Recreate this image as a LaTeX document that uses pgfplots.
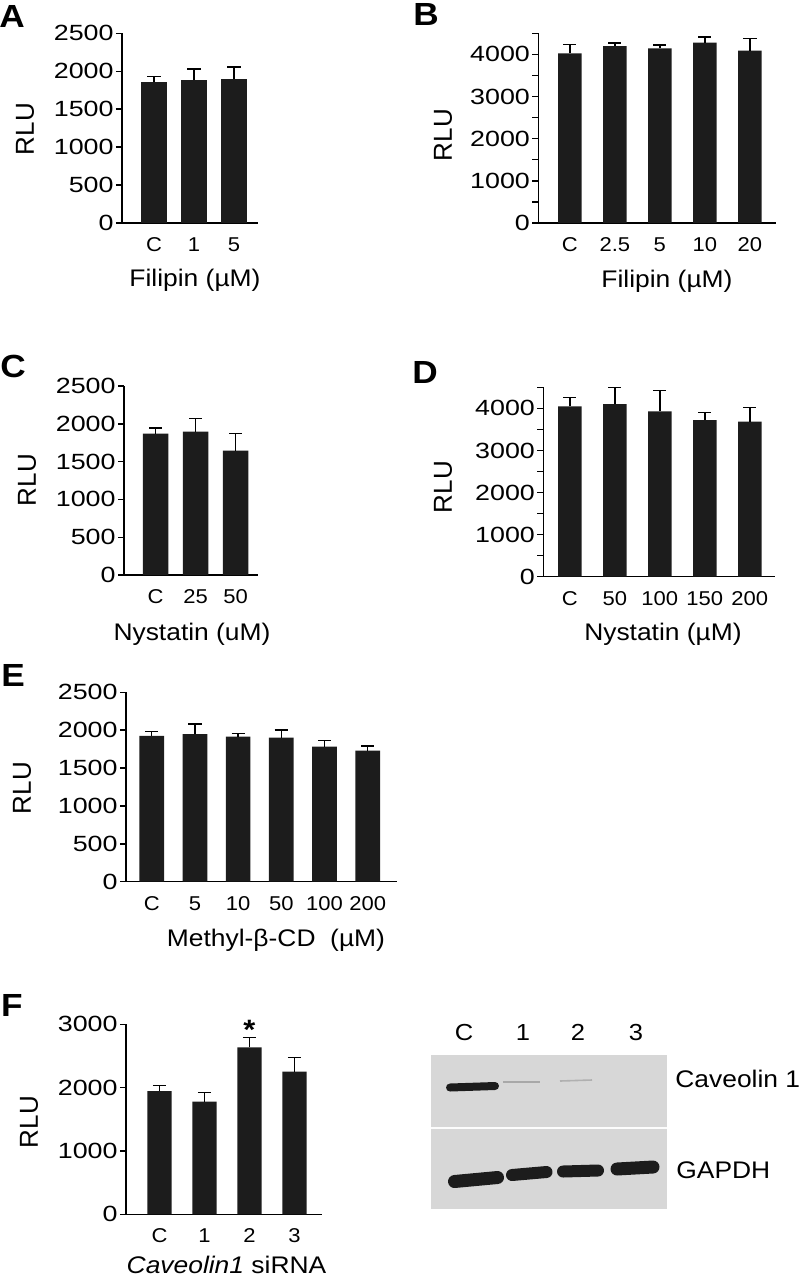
\documentclass[border=0pt]{standalone}
\usepackage{fontspec}
\setmainfont{Liberation Sans}[FakeStretch=1.1]
\newfontfamily\plainfont{Liberation Sans}
\newfontfamily\widefont{Liberation Sans}[FakeStretch=1.22]
\usepackage{pgfplots}
\usepackage{pgfplotstable}
\pgfplotsset{compat=1.18}
\definecolor{barcol}{HTML}{1C1C1C}
\definecolor{blotgray}{HTML}{D7D7D7}

\pgfplotstableread{
x y e
0 1855 79
1 1882 148
2 1895 162
}\dataA
\pgfplotstableread{
x y e
0 4024 214
1 4198 72
2 4143 79
3 4278 135
4 4087 294
}\dataB
\pgfplotstableread{
x y e
0 1869 75
1 1896 177
2 1644 230
}\dataC
\pgfplotstableread{
x y e
0 4048 213
1 4102 397
2 3929 489
3 3722 183
4 3682 342
}\dataD
\pgfplotstableread{
x y e
0 1924 62
1 1947 136
2 1915 45
3 1902 102
4 1783 79
5 1730 62
}\dataE
\pgfplotstableread{
x y e
0 1947 90
1 1778 142
2 2637 151
3 2252 221
}\dataF

\pgfplotsset{
  rlu/.style={
    scale only axis, anchor=south west, clip=false,
    axis x line*=bottom, axis y line*=left,
    axis line style={-, line width=0.7pt, black},
    ymin=0, xtick=data,
    xtick style={draw=none},
    ytick align=outside, ytick pos=left,
    major tick length=3pt, minor tick length=3pt,
    every tick/.style={line width=0.7pt, black},
    minor tick style={line width=0.7pt, black},
    /pgf/number format/assume math mode=true,
    /pgf/number format/1000 sep={},
    yticklabel style={font=\widefont\fontsize{11}{12}\selectfont, inner sep=0pt, xshift=-1pt},
    xticklabel style={font=\fontsize{10}{11}\selectfont, anchor=base, inner sep=0pt, yshift=-11.2pt},
    ybar, bar shift=0pt,
  },
  bsty/.style={
    fill=barcol, draw=none,
    error bars/.cd, y dir=plus, y explicit,
    error bar style={line width=0.7pt, draw=black},
    error mark options={rotate=90, line width=0.7pt, draw=black, mark size=3.3pt},
  },
}

\begin{document}
\begin{tikzpicture}
\useasboundingbox (0,0) rectangle (400pt,-639.5pt);

% A
\begin{axis}[rlu, at={(61pt,-111.5pt)}, width=68pt, height=94.85pt,
  xmin=-0.8, xmax=2.6, ymax=2500, ytick={0,500,...,2500},
  bar width=12.85pt, xticklabels={C,1,5}]
\addplot[bsty] table[x=x,y=y,y error=e]{\dataA};
\end{axis}

% B
\begin{axis}[rlu, at={(269.15pt,-111.5pt)}, width=118.85pt, height=94.85pt,
  xmin=-0.7, xmax=4.58, ymax=4500, ytick={0,1000,...,4000},
  minor ytick={500,1500,2500,3500,4500},
  bar width=11.7pt, xticklabels={C,2.5,5,10,20}]
\addplot[bsty] table[x=x,y=y,y error=e]{\dataB};
\end{axis}

% C
\begin{axis}[rlu, at={(62pt,-287.5pt)}, width=67pt, height=94.5pt,
  xmin=-0.79, xmax=2.56, ymax=2500, ytick={0,500,...,2500},
  bar width=12.85pt, xticklabels={C,25,50}]
\addplot[bsty] table[x=x,y=y,y error=e]{\dataC};
\end{axis}

% D
\begin{axis}[rlu, at={(271.65pt,-288.35pt)}, width=115.85pt, height=94.7pt,
  xmin=-0.59, xmax=4.56, ymax=4500, ytick={0,1000,...,4000},
  minor ytick={500,1500,2500,3500,4500},
  bar width=11.7pt, xticklabels={C,50,100,150,200}]
\addplot[bsty] table[x=x,y=y,y error=e]{\dataD};
\end{axis}

% E
\begin{axis}[rlu, at={(63pt,-440.85pt)}, width=135.35pt, height=94.7pt,
  xmin=-0.595, xmax=5.67, ymax=2500, ytick={0,500,...,2500},
  bar width=12.35pt, xticklabels={C,5,10,50,100,200}]
\addplot[bsty] table[x=x,y=y,y error=e]{\dataE};
\end{axis}

% F
\begin{axis}[rlu, at={(63pt,-607.15pt)}, width=97.85pt, height=95pt,
  xmin=-0.744, xmax=3.605, ymax=3000, ytick={0,1000,2000,3000},
  bar width=12.1pt, xticklabels={C,1,2,3}]
\addplot[bsty] table[x=x,y=y,y error=e]{\dataF};
\node[anchor=base, font=\bfseries\fontsize{14}{16}\selectfont] at (axis cs:2,2768) {*};
\end{axis}

% Western blot
\begin{axis}[hide axis, scale only axis, anchor=south west, clip=false,
  at={(215.5pt,-604.5pt)}, width=118pt, height=77pt,
  xmin=431, xmax=667, ymin=-1209, ymax=-1055]
\fill[blotgray] (axis cs:431,-1209) rectangle (axis cs:667,-1055);
\fill[white!92!blotgray] (axis cs:431,-1129.2) rectangle (axis cs:667,-1127);
\addplot[black!22!blotgray, line width=0.8pt] coordinates {(503,-1082) (540,-1082)};
\addplot[black!18!blotgray, line width=0.8pt] coordinates {(560,-1081) (592,-1080)};
\addplot[barcol, line width=4pt, line cap=round] coordinates {(450,-1087.5) (495,-1086)};
\addplot[barcol, line width=6.5pt, line cap=round] coordinates {(454.5,-1181.5) (497.5,-1177.5)};
\addplot[barcol, line width=6pt, line cap=round] coordinates {(512,-1175) (546.5,-1172)};
\addplot[barcol, line width=6pt, line cap=round] coordinates {(563,-1171.5) (598,-1170.5)};
\addplot[barcol, line width=6.5pt, line cap=round] coordinates {(617,-1169) (653,-1167)};
\end{axis}

% Text
\begin{scope}[x=0.5pt,y=-0.5pt]
\tikzset{lett/.style={font=\bfseries\fontsize{16}{18}\selectfont},
  rlu/.style={rotate=90, font=\plainfont\fontsize{13}{15}\selectfont},
  xl/.style={anchor=base, font=\fontsize{12}{14}\selectfont}}
\node[lett] at (12,16) {A};
\node[lett] at (426,14) {B};
\node[lett] at (13,366) {C};
\node[lett] at (425,372) {D};
\node[lett] at (13,675) {E};
\node[lett] at (12,1005) {F};
\node[rlu] at (25,129) {RLU};
\node[rlu] at (443,135) {RLU};
\node[rlu] at (27,480) {RLU};
\node[rlu] at (443,487) {RLU};
\node[rlu] at (22,788) {RLU};
\node[rlu] at (29,1122) {RLU};
\node[xl] at (195,286) {Filipin (µM)};
\node[xl] at (667,287) {Filipin (µM)};
\node[xl] at (192,640) {Nystatin (uM)};
\node[xl] at (663,640) {Nystatin (µM)};
\node[xl] at (276,946.7) {Methyl-β-CD\ \ (µM)};
\node[xl] at (226.5,1273) {\textit{Caveolin1} siRNA};
\node[xl, font=\fontsize{11.6}{13}\selectfont] at (464,1040) {C};
\node[xl, font=\fontsize{11.6}{13}\selectfont] at (523,1040) {1};
\node[xl, font=\fontsize{11.6}{13}\selectfont] at (578,1040) {2};
\node[xl, font=\fontsize{11.6}{13}\selectfont] at (636,1040) {3};
\node[xl, anchor=base west, inner sep=0pt] at (675,1087.3) {Caveolin 1};
\node[xl, anchor=base west, inner sep=0pt] at (676,1178.3) {GAPDH};
\end{scope}
\end{tikzpicture}
\end{document}
